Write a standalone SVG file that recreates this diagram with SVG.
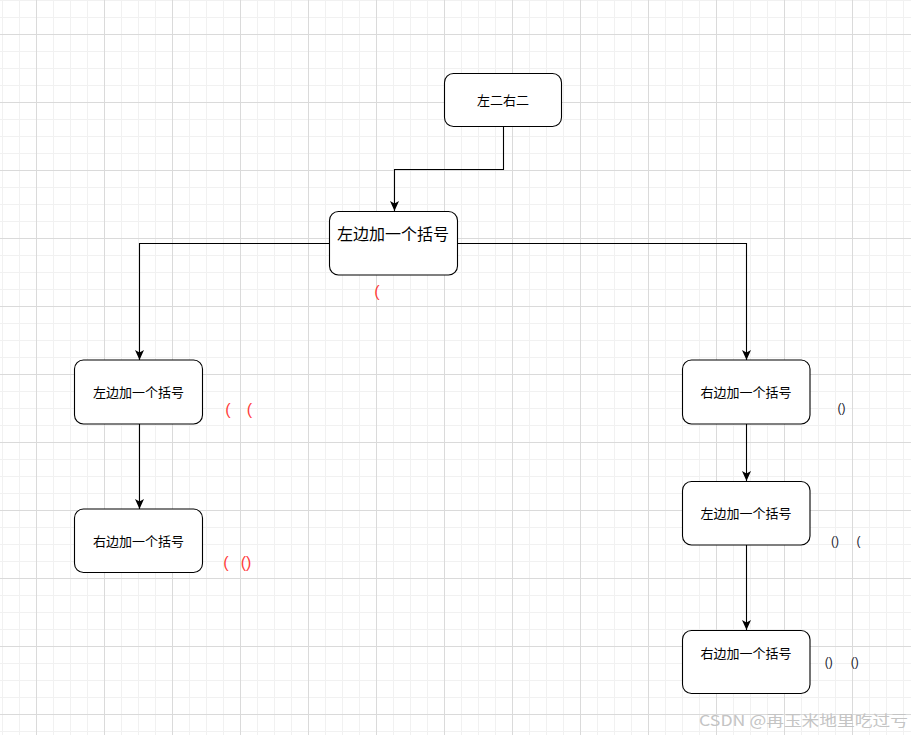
<svg xmlns="http://www.w3.org/2000/svg" width="911" height="735" viewBox="0 0 911 735">
<defs>
<pattern id="grid" patternUnits="userSpaceOnUse" x="36" y="34" width="68" height="68">
<rect x="17" y="0" width="1" height="68" fill="#f1f1f1"/>
<rect x="34" y="0" width="1" height="68" fill="#f1f1f1"/>
<rect x="51" y="0" width="1" height="68" fill="#f1f1f1"/>
<rect x="0" y="17" width="68" height="1" fill="#f1f1f1"/>
<rect x="0" y="34" width="68" height="1" fill="#f1f1f1"/>
<rect x="0" y="51" width="68" height="1" fill="#f1f1f1"/>
<rect x="0" y="0" width="1" height="68" fill="#dadada"/>
<rect x="0" y="0" width="68" height="1" fill="#dadada"/>
</pattern>
<marker id="arrow" markerUnits="userSpaceOnUse" markerWidth="12" markerHeight="12" viewBox="0 0 12 12" refX="11" refY="6" orient="auto">
<path d="M1,1.5 L11,6 L1,10.5 L3.5,6 Z" fill="#000"/>
</marker>
</defs>
<style>
.node rect{fill:#fff;stroke:#000;stroke-width:1.1}
.lbl{font-family:"Noto Sans CJK SC","Microsoft YaHei",sans-serif;font-size:13px;fill:#000;text-anchor:middle;dominant-baseline:central}
.big{font-size:16px}
.red{font-family:"Liberation Sans",Arial,sans-serif;font-size:16px;fill:#ff3b3b;text-anchor:middle;dominant-baseline:central}
.dark{font-family:"Liberation Sans",Arial,sans-serif;font-size:12px;fill:#1a1a2e;text-anchor:middle;dominant-baseline:central}
.edge{fill:none;stroke:#000;stroke-width:1.1;marker-end:url(#arrow)}
.wm{font-family:"Noto Sans CJK SC",sans-serif;font-size:15px;fill:#c4c4c4}
</style>
<rect width="911" height="735" fill="#fff"/>
<rect width="911" height="735" fill="url(#grid)"/>

<g id="connectors">
<path class="edge" d="M503.5,126 V169.5 H394.5 V211"/>
<path class="edge" d="M329.5,243.5 H139.5 V360"/>
<path class="edge" d="M457.5,243.5 H746.5 V360"/>
<path class="edge" d="M139.5,424 V509"/>
<path class="edge" d="M746.5,424 V481"/>
<path class="edge" d="M746.5,545 V630"/>
</g>

<g id="n-top" class="node">
<rect x="444.5" y="73.5" width="117" height="53" rx="9"/>
<text class="lbl" x="503" y="99.5">左二右二</text>
</g>
<g id="n-mid" class="node">
<rect x="329.5" y="211.5" width="128" height="63.5" rx="9"/>
<text class="lbl big" x="393" y="232.5">左边加一个括号</text>
</g>
<g id="n-l1" class="node">
<rect x="74.5" y="360" width="128" height="64" rx="9"/>
<text class="lbl" x="138.5" y="391.5">左边加一个括号</text>
</g>
<g id="n-l2" class="node">
<rect x="74.5" y="509" width="128" height="63.5" rx="9"/>
<text class="lbl" x="138.5" y="540">右边加一个括号</text>
</g>
<g id="n-r1" class="node">
<rect x="682.5" y="360" width="127.5" height="64" rx="9"/>
<text class="lbl" x="746" y="391.5">右边加一个括号</text>
</g>
<g id="n-r2" class="node">
<rect x="682.5" y="481.5" width="127.5" height="63.5" rx="9"/>
<text class="lbl" x="746" y="512">左边加一个括号</text>
</g>
<g id="n-r3" class="node">
<rect x="682.5" y="630.5" width="127.5" height="63" rx="9"/>
<text class="lbl" x="746" y="652.5">右边加一个括号</text>
</g>

<g id="labels">
<text class="red" x="377" y="291">(</text>
<text class="red" y="408.5"><tspan x="228">(</tspan><tspan x="249.5">(</tspan></text>
<text class="red" y="561.5"><tspan x="226">(</tspan><tspan x="246">()</tspan></text>
<text class="dark" x="841.5" y="408">()</text>
<text class="dark" y="541"><tspan x="835">()</tspan><tspan x="858.5">(</tspan></text>
<text class="dark" y="662"><tspan x="828.7">()</tspan><tspan x="854.7">()</tspan></text>
</g>

<text class="wm" x="699" y="726" textLength="209" lengthAdjust="spacingAndGlyphs">CSDN @再玉米地里吃过亏</text>
</svg>
